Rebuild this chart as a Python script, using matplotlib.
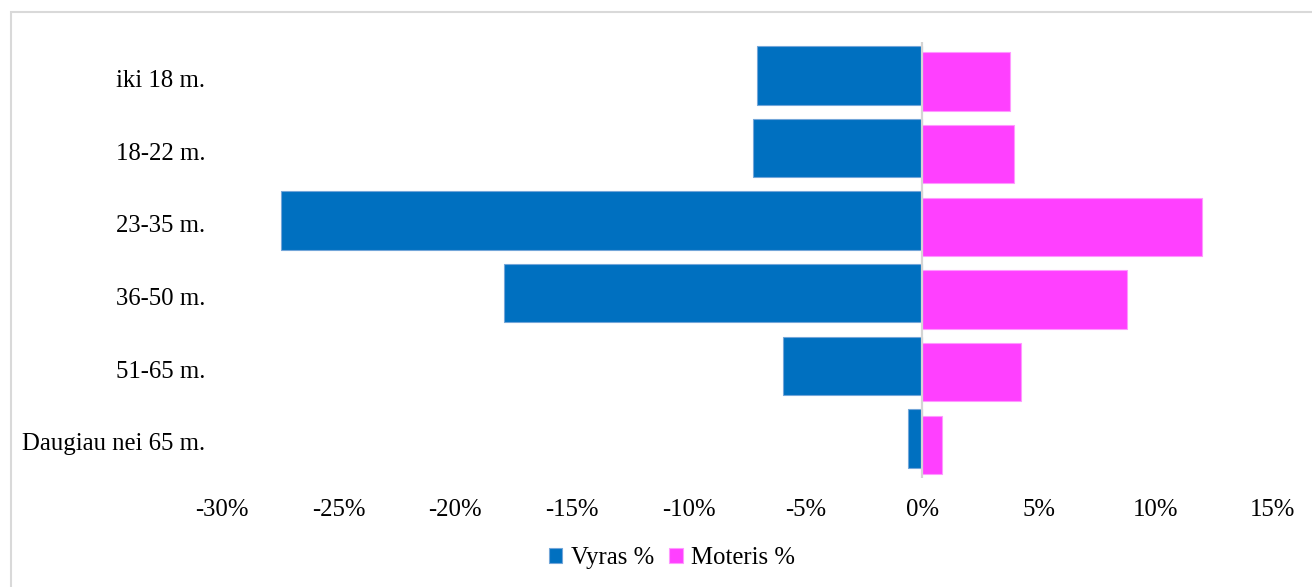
import matplotlib
matplotlib.use("Agg")
import matplotlib.pyplot as plt
from matplotlib.patches import Rectangle
from matplotlib.ticker import FuncFormatter

plt.rcParams["font.family"] = ["Liberation Serif", "DejaVu Serif"]

# Age groups and the share of each gender (%)
age_groups = ["iki 18 m.", "18-22 m.", "23-35 m.", "36-50 m.", "51-65 m.", "Daugiau nei 65 m."]
male_pct = [-7.08, -7.25, -27.45, -17.90, -5.97, -0.60]
female_pct = [3.75, 3.91, 12.0, 8.76, 4.24, 0.85]
x_ticks = [-30, -25, -20, -15, -10, -5, 0, 5, 10, 15]

BLUE = "#0070C0"
PINK = "#FF40FF"
FS = 17.8

fig = plt.figure(figsize=(13.12, 5.87), dpi=100, facecolor="white")
ax = fig.add_axes([0.1691, 0.1857, 0.8008, 0.7427])

# light outer frame of the chart area
fig.patches.append(Rectangle((11 / 1312, -0.05), 1.1, 1.05 - 12 / 587, transform=fig.transFigure,
                             fill=False, edgecolor="#d9d9d9", linewidth=1.5))

pos = list(range(len(age_groups)))
h = 0.806
off = 0.043
ax.barh([p - off for p in pos], male_pct, height=h, color=BLUE,
        edgecolor=(0.45, 0.65, 0.85), linewidth=0.8, label="Vyras %", zorder=2)
ax.barh([p + off for p in pos], female_pct, height=h, color=PINK,
        edgecolor=(1.0, 0.6, 1.0), linewidth=0.8, label="Moteris %", zorder=2)

ax.axvline(0, color="#d4d4d4", linewidth=1.6, zorder=3)

ax.set_xlim(-30, 15)
ax.set_ylim(len(age_groups) - 0.5, -0.5)
ax.set_xticks(x_ticks)
ax.xaxis.set_major_formatter(FuncFormatter(lambda v, _: f"{v:.0f}%"))
ax.set_yticks(pos)
ax.set_yticklabels(age_groups)
ax.tick_params(axis="both", length=0, labelsize=FS, labelcolor="black")
ax.tick_params(axis="y", pad=12)
ax.tick_params(axis="x", pad=15)
for s in ax.spines.values():
    s.set_visible(False)

fig.legend(loc="center", bbox_to_anchor=(672 / 1312, 1 - 558 / 587), ncol=2, frameon=False,
           fontsize=FS, handlelength=0.55, handleheight=0.55, handletextpad=0.35, columnspacing=0.6)

plt.savefig("out.png", dpi=100, facecolor=fig.get_facecolor())
plt.close()
